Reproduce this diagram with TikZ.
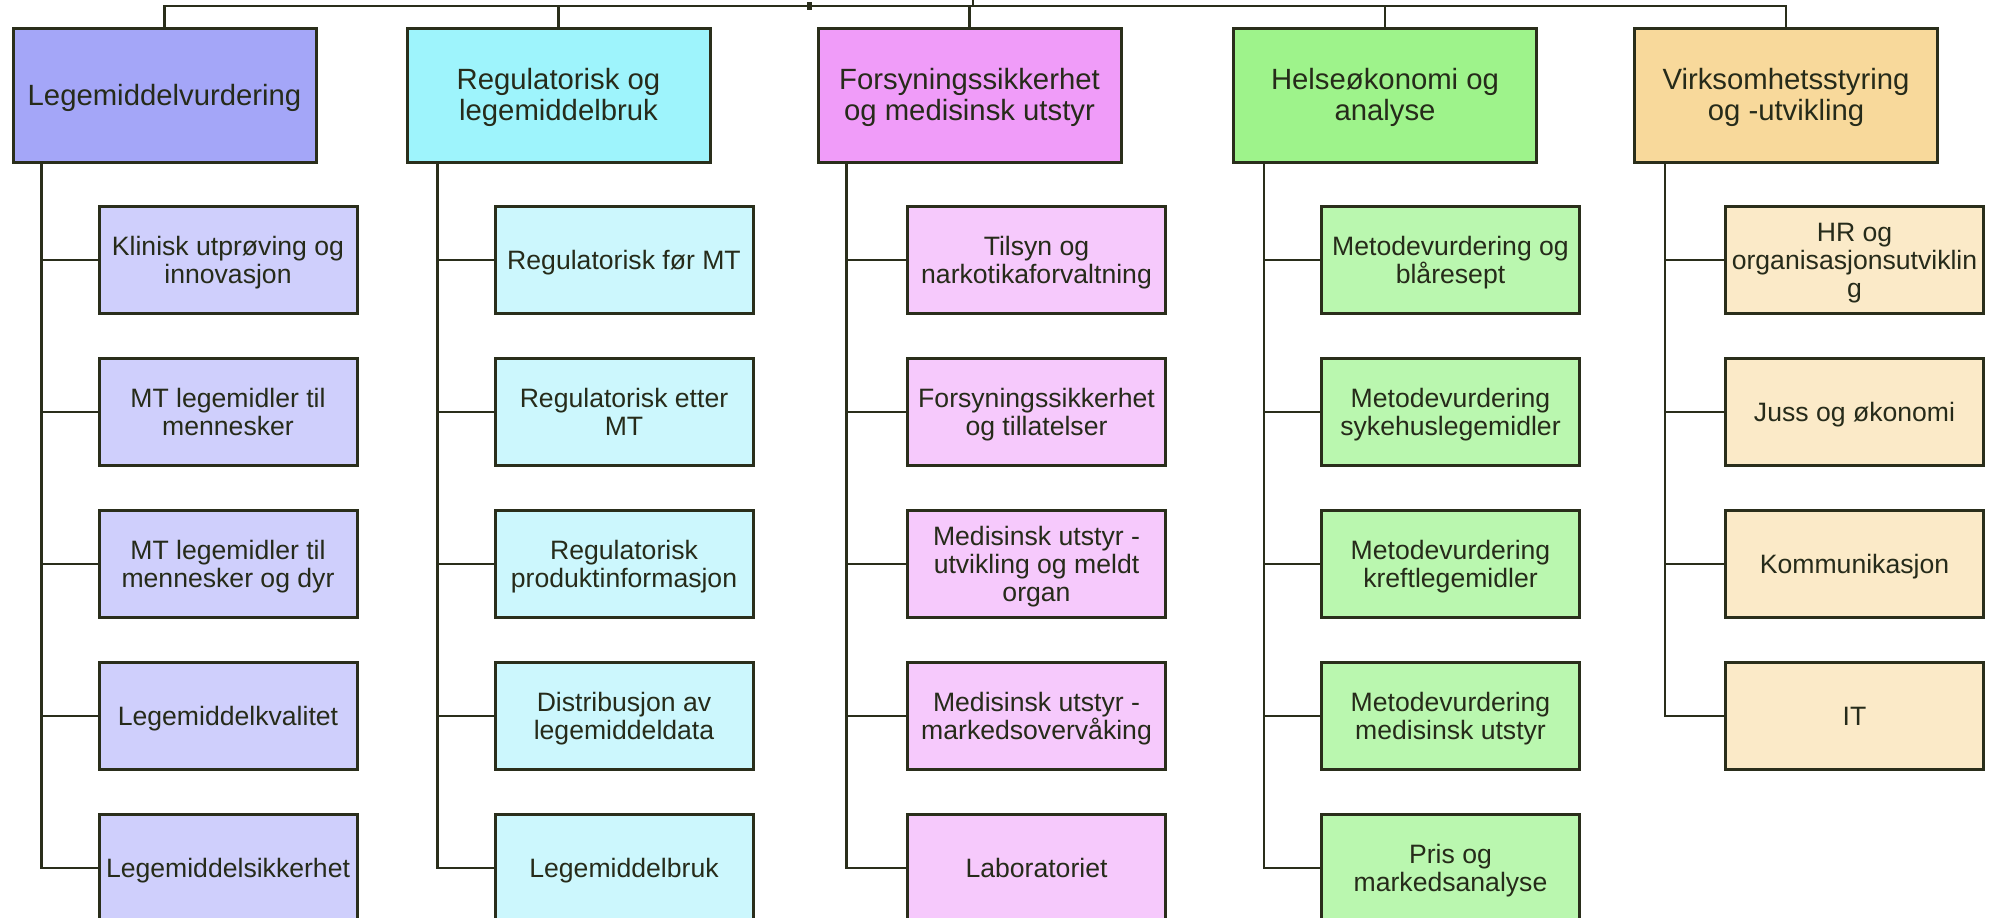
\documentclass[tikz,border=0pt]{standalone}
\usepackage{fontspec}
\setmainfont{Liberation Sans}
\definecolor{bord}{HTML}{2A2E1B}
\definecolor{txt}{HTML}{262B1A}
\definecolor{aT}{HTML}{A4A6F8}\definecolor{aC}{HTML}{CFCFFC}
\definecolor{bT}{HTML}{9EF4FC}\definecolor{bC}{HTML}{CCF7FD}
\definecolor{cT}{HTML}{F09CF9}\definecolor{cC}{HTML}{F6C9FC}
\definecolor{dT}{HTML}{9EF38B}\definecolor{dC}{HTML}{BAF7AF}
\definecolor{eT}{HTML}{F8D99B}\definecolor{eC}{HTML}{FBEAC8}
\newcommand\fstrut{\rule{0pt}{0.905em}}
\begin{document}
\begin{tikzpicture}[x=1pt,y=-1pt,
  lineboxes/.style={execute at end node={\rule[-0.212em]{0pt}{0pt}}},
  topbox/.style={draw=bord,line width=3pt,minimum width=303pt,minimum height=134pt,
    inner sep=0pt,align=center,text=txt,font=\fontsize{29.3}{30.6}\selectfont,lineboxes},
  childbox/.style={draw=bord,line width=3pt,minimum width=258pt,minimum height=107pt,
    inner sep=0pt,align=center,text=txt,font=\fontsize{26.6}{28}\selectfont,lineboxes},
  conn/.style={draw=bord,line width=2.7pt}]
\useasboundingbox (0,0) rectangle (1997,918);
% top-level boxes
\node[topbox,fill=aT] (t1) at (164.5,95) {\fstrut Legemiddelvurdering};
\node[topbox,fill=bT] (t2) at (558.5,95) {\fstrut Regulatorisk og\\legemiddelbruk};
\node[topbox,fill=cT] (t3) at (969.5,95) {\fstrut Forsyningssikkerhet\\og medisinsk utstyr};
\node[topbox,fill=dT] (t4) at (1385,95) {\fstrut Helseøkonomi og\\analyse};
\node[topbox,fill=eT] (t5) at (1786,95) {\fstrut Virksomhetsstyring\\og -utvikling};
% bus
\coordinate (bus) at (0,6);
\coordinate (root) at (973,0);
\coordinate (rootb) at (973,6);
\coordinate (tick) at (809,6);
\draw[conn] (t1.north) -- (t1.north |- bus) -- (t5.north |- bus) -- (t5.north);
\draw[conn] (t2.north) -- (t2.north |- bus);
\draw[conn] (t3.north) -- (t3.north |- bus);
\draw[conn] (t4.north) -- (t4.north |- bus);
\draw[conn] (root) -- (rootb);
\fill[bord] ([xshift=-2.5pt,yshift=-4pt]tick) rectangle ([xshift=2.5pt,yshift=4pt]tick);
% column 1
\foreach \i/\t in {1/{Klinisk utprøving og\\innovasjon},2/{MT legemidler til\\mennesker},3/{MT legemidler til\\mennesker og dyr},4/{Legemiddelkvalitet},5/{Legemiddelsikkerhet}}{
  \node[childbox,fill=aC] (a\i) at (228,{260+152*(\i-1)}) {\fstrut\t};
  \draw[conn] ([xshift=30pt]t1.south west) |- (a\i.west);}
% column 2
\foreach \i/\t in {1/{Regulatorisk før MT},2/{Regulatorisk etter\\MT},3/{Regulatorisk\\produktinformasjon},4/{Distribusjon av\\legemiddeldata},5/{Legemiddelbruk}}{
  \node[childbox,fill=bC] (b\i) at (624,{260+152*(\i-1)}) {\fstrut\t};
  \draw[conn] ([xshift=32pt]t2.south west) |- (b\i.west);}
% column 3
\foreach \i/\t in {1/{Tilsyn og\\narkotikaforvaltning},2/{Forsyningssikkerhet\\og tillatelser},3/{Medisinsk utstyr -\\utvikling og meldt\\organ},4/{Medisinsk utstyr -\\markedsovervåking},5/{Laboratoriet}}{
  \node[childbox,fill=cC] (c\i) at (1036.5,{260+152*(\i-1)}) {\fstrut\t};
  \draw[conn] ([xshift=30pt]t3.south west) |- (c\i.west);}
% column 4
\foreach \i/\t in {1/{Metodevurdering og\\blåresept},2/{Metodevurdering\\sykehuslegemidler},3/{Metodevurdering\\kreftlegemidler},4/{Metodevurdering\\medisinsk utstyr},5/{Pris og\\markedsanalyse}}{
  \node[childbox,fill=dC] (d\i) at (1450.5,{260+152*(\i-1)}) {\fstrut\t};
  \draw[conn] ([xshift=32pt]t4.south west) |- (d\i.west);}
% column 5
\foreach \i/\t in {1/{HR og\\organisasjonsutviklin\\g},2/{Juss og økonomi},3/{Kommunikasjon},4/{IT}}{
  \node[childbox,fill=eC] (e\i) at (1854.5,{260+152*(\i-1)}) {\fstrut\t};
  \draw[conn] ([xshift=32pt]t5.south west) |- (e\i.west);}
\end{tikzpicture}
\end{document}
